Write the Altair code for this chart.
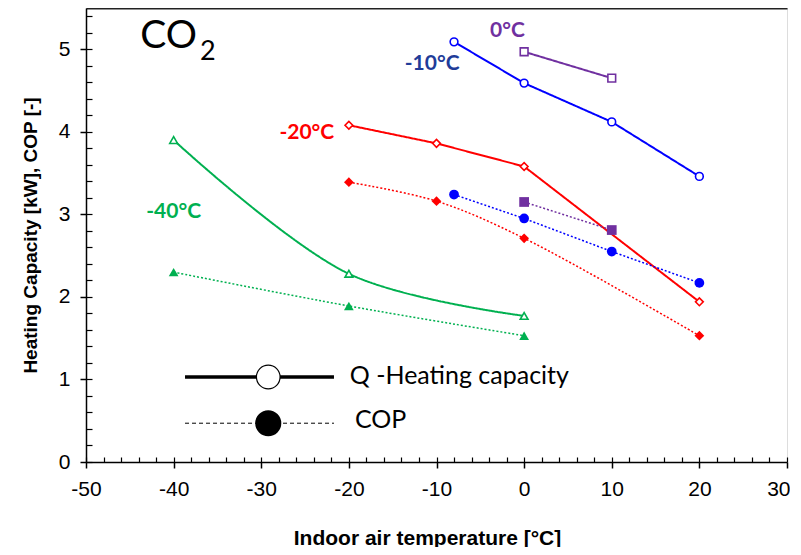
import altair as alt
import pandas as pd

# ---- data ----
series_names = ["-40", "-20", "-10", "0"]
series_colors = ["#00B050", "#FF0000", "#0000FF", "#7030A0"]
series_shapes = ["triangle-up", "diamond", "circle", "square"]

x_m40 = [-40, -20, 0]
q_m40 = [3.90, 2.28, 1.77]
cop_m40 = [2.30, 1.89, 1.53]

x_m20 = [-20, -10, 0, 20]
q_m20 = [4.08, 3.86, 3.58, 1.94]
cop_m20 = [3.39, 3.16, 2.71, 1.53]

x_m10 = [-8, 0, 10, 20]
q_m10 = [5.09, 4.59, 4.12, 3.46]
cop_m10 = [3.24, 2.95, 2.55, 2.17]

x_0 = [0, 10]
q_0 = [4.97, 4.65]
cop_0 = [3.15, 2.81]

label_text = ["-40°C", "-20°C", "-10°C", "0°C"]
label_x = [-40.0, -24.8, -10.5, -1.9]
label_y = [3.03, 3.99, 4.82, 5.22]
label_colors = ["#00B050", "#FF0000", "#1F3C99", "#7030A0"]

x_ticks = [-50, -40, -30, -20, -10, 0, 10, 20, 30]
y_ticks = [0, 1, 2, 3, 4, 5]
x_minor = list(range(-50, 31, 2))
y_minor = [round(0.2 * i, 1) for i in range(0, 28)]

legend_line_x = [-38.7, -21.7]
legend_marker_x = -29.2
legend_q_y = 1.03
legend_cop_y = 0.47
legend_text_x = [-19.9, -19.3]
legend_text_y = [1.04, 0.51]
legend_text = ["Q -Heating capacity", "COP"]

rows = []
def add(series, kind, xs, ys, smooth):
    for xv, yv in zip(xs, ys):
        rows.append(dict(series=series, kind=kind, x=xv, y=yv,
                         smooth=smooth, group=series + kind))

add("-40", "Q", x_m40, q_m40, True)
add("-40", "COP", x_m40, cop_m40, True)
add("-20", "Q", x_m20, q_m20, False)
add("-20", "COP", x_m20, cop_m20, True)
add("-10", "Q", x_m10, q_m10, False)
add("-10", "COP", x_m10, cop_m10, False)
add("0", "Q", x_0, q_0, False)
add("0", "COP", x_0, cop_0, False)
df = pd.DataFrame(rows)

xs = alt.Scale(domain=[-50, 30], nice=False, zero=False)
ys = alt.Scale(domain=[0, 5.5], nice=False, zero=False)
color_scale = alt.Scale(domain=series_names, range=series_colors)
shape_scale = alt.Scale(domain=series_names, range=series_shapes)
dash_scale = alt.Scale(domain=["Q", "COP"], range=[[1, 0], [2, 2]])
width_scale = alt.Scale(domain=["Q", "COP"], range=[2, 1.5])

FONT = "Liberation Sans"

main_x_axis = alt.Axis(values=x_ticks, orient="bottom", tickSize=6, tickColor="black",
                       tickWidth=1.5, domainColor="black", domainWidth=1.5,
                       labelFont=FONT, labelFontSize=21, labelColor="black",
                       labelPadding=10, labelFlush=False, labelOverlap=False,
                       labelExpr="'' + datum.value",
                       labelAlign={"condition": {"test": "datum.value == 30", "value": "right"},
                                   "value": "center"},
                       labelOffset={"condition": {"test": "datum.value == 30", "value": 3},
                                    "value": 0},
                       title="Indoor air temperature [°C]", titleFont=FONT,
                       titleFontSize=21, titleFontWeight="bold", titleColor="black",
                       titlePadding=28, titleX=341, titleAlign="center", grid=False)
main_y_axis = alt.Axis(values=y_ticks, orient="left", tickSize=6, tickColor="black",
                       tickWidth=1.5, domainColor="black", domainWidth=1.5,
                       labelFont=FONT, labelFontSize=21, labelColor="black",
                       labelPadding=10, labelOverlap=False,
                       labelExpr="'' + datum.value",
                       title="Heating Capacity [kW], COP [-]", titleFont=FONT,
                       titleFontSize=19, titleFontWeight="bold", titleColor="black",
                       titlePadding=18, grid=False)
minor_x_axis = alt.Axis(values=x_minor, orient="bottom", offset=-5, tickSize=5,
                        tickColor="black", tickWidth=1.2, domain=False, labels=False,
                        title=None, grid=False)
minor_y_axis = alt.Axis(values=y_minor, orient="left", offset=-6, tickSize=6,
                        tickColor="black", tickWidth=1.2, domain=False, labels=False,
                        title=None, grid=False)
top_x_axis = alt.Axis(orient="top", domainColor="#222222", domainWidth=2, ticks=False,
                      labels=False, title=None, grid=False)

base = alt.Chart(df)

lines_smooth = base.transform_filter("datum.smooth").mark_line(
    interpolate="catmull-rom").encode(
    x=alt.X("x:Q", scale=xs, axis=main_x_axis),
    y=alt.Y("y:Q", scale=ys, axis=main_y_axis),
    color=alt.Color("series:N", scale=color_scale, legend=None),
    strokeDash=alt.StrokeDash("kind:N", scale=dash_scale, legend=None),
    strokeWidth=alt.StrokeWidth("kind:N", scale=width_scale, legend=None),
    detail="group:N",
)

lines_linear = base.transform_filter("!datum.smooth").mark_line().encode(
    x=alt.X("x:Q", scale=xs, axis=minor_x_axis),
    y=alt.Y("y:Q", scale=ys, axis=minor_y_axis),
    color=alt.Color("series:N", scale=color_scale, legend=None),
    strokeDash=alt.StrokeDash("kind:N", scale=dash_scale, legend=None),
    strokeWidth=alt.StrokeWidth("kind:N", scale=width_scale, legend=None),
    detail="group:N",
)

pts_open = base.transform_filter("datum.kind == 'Q'").mark_point(
    filled=True, fill="white", strokeWidth=1.6, size=60, opacity=1).encode(
    x=alt.X("x:Q", scale=xs, axis=top_x_axis),
    y=alt.Y("y:Q", scale=ys, axis=None),
    stroke=alt.Stroke("series:N", scale=color_scale, legend=None),
    shape=alt.Shape("series:N", scale=shape_scale, legend=None),
)

pts_filled = base.transform_filter("datum.kind == 'COP'").mark_point(
    filled=True, size=95, opacity=1).encode(
    x=alt.X("x:Q", scale=xs, axis=None),
    y=alt.Y("y:Q", scale=ys, axis=None),
    color=alt.Color("series:N", scale=color_scale, legend=None),
    shape=alt.Shape("series:N", scale=shape_scale, legend=None),
)

labels_df = pd.DataFrame(dict(text=label_text, x=label_x, y=label_y, c=label_colors))
labels = alt.Chart(labels_df).mark_text(
    font="Lato", fontWeight="bold", fontSize=21, align="center", baseline="middle").encode(
    x=alt.X("x:Q", scale=xs, axis=None),
    y=alt.Y("y:Q", scale=ys, axis=None),
    text="text:N",
    color=alt.Color("c:N", scale=None),
)

co_df = pd.DataFrame(dict(text=["CO"], x=[-43.8], y=[5.16]))
co = alt.Chart(co_df).mark_text(font="Lato", fontSize=39, align="left",
                                baseline="middle", color="black").encode(
    x=alt.X("x:Q", scale=xs, axis=None), y=alt.Y("y:Q", scale=ys, axis=None), text="text:N")
sub_df = pd.DataFrame(dict(text=["2"], x=[-37.0], y=[4.97]))
sub = alt.Chart(sub_df).mark_text(font="Lato", fontSize=27, align="left",
                                  baseline="middle", color="black").encode(
    x=alt.X("x:Q", scale=xs, axis=None), y=alt.Y("y:Q", scale=ys, axis=None), text="text:N")

leg_q_df = pd.DataFrame(dict(x=legend_line_x, y=[legend_q_y] * 2))
leg_cop_df = pd.DataFrame(dict(x=legend_line_x, y=[legend_cop_y] * 2))
leg_q_line = alt.Chart(leg_q_df).mark_line(color="black", strokeWidth=3.5).encode(
    x=alt.X("x:Q", scale=xs, axis=None), y=alt.Y("y:Q", scale=ys, axis=None))
leg_cop_line = alt.Chart(leg_cop_df).mark_line(color="black", strokeWidth=1,
                                               strokeDash=[4, 3]).encode(
    x=alt.X("x:Q", scale=xs, axis=None), y=alt.Y("y:Q", scale=ys, axis=None))
leg_q_pt = alt.Chart(pd.DataFrame(dict(x=[legend_marker_x], y=[legend_q_y]))).mark_point(
    shape="circle", filled=True, fill="white", stroke="black", strokeWidth=1.2,
    size=560, opacity=1).encode(
    x=alt.X("x:Q", scale=xs, axis=None), y=alt.Y("y:Q", scale=ys, axis=None))
leg_cop_pt = alt.Chart(pd.DataFrame(dict(x=[legend_marker_x], y=[legend_cop_y]))).mark_point(
    shape="circle", filled=True, color="black", size=680, opacity=1).encode(
    x=alt.X("x:Q", scale=xs, axis=None), y=alt.Y("y:Q", scale=ys, axis=None))
leg_text_df = pd.DataFrame(dict(text=legend_text, x=legend_text_x, y=legend_text_y))
leg_text = alt.Chart(leg_text_df).mark_text(font="Lato", fontSize=25, align="left",
                                            baseline="middle", color="black").encode(
    x=alt.X("x:Q", scale=xs, axis=None), y=alt.Y("y:Q", scale=ys, axis=None), text="text:N")

chart = alt.layer(
    lines_smooth, lines_linear, pts_open, pts_filled, labels, co, sub,
    leg_q_line, leg_cop_line, leg_q_pt, leg_cop_pt, leg_text,
).resolve_axis(x="independent", y="independent").properties(
    width=701, height=454,
    padding={"left": 13, "top": 0, "right": 0, "bottom": -1},
).configure_view(stroke="#8a8a8a", strokeWidth=2).configure(background="white")

chart.save("out.html", embed_options={"renderer": "svg", "actions": False})
